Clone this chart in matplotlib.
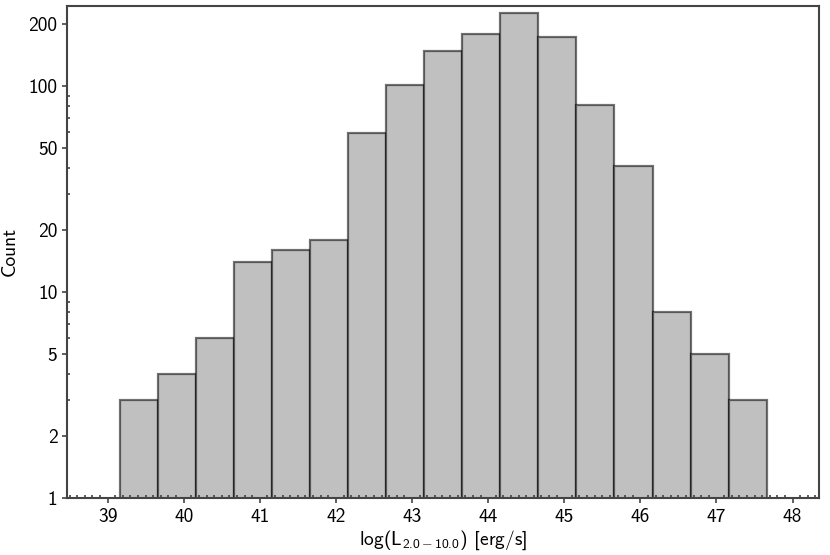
import numpy as np
import matplotlib.pyplot as plt
from matplotlib.ticker import FixedLocator, FixedFormatter, AutoMinorLocator, LogLocator, NullFormatter

plt.rcParams['font.family'] = ['cmss10', 'DejaVu Sans']
plt.rcParams['mathtext.fontset'] = 'custom'
plt.rcParams['mathtext.rm'] = 'cmss10'
plt.rcParams['mathtext.it'] = 'cmss10'
plt.rcParams['axes.unicode_minus'] = False

# bin edges (log L) and counts per bin
bin_left = [39.16, 39.66, 40.16, 40.66, 41.16, 41.66, 42.16, 42.66, 43.16,
            43.66, 44.16, 44.66, 45.16, 45.66, 46.16, 46.66, 47.16]
bin_width = 0.5
counts = [3, 4, 6, 14, 16, 18, 59, 101, 149, 179, 226, 173, 81, 41, 8, 5, 3]

yticks = [1, 2, 5, 10, 20, 50, 100, 200]
xticks = [39, 40, 41, 42, 43, 44, 45, 46, 47, 48]

fig = plt.figure(figsize=(8.3, 5.55), dpi=100)
ax = fig.add_axes([0.081, 0.103, 0.906, 0.887])

ax.bar(bin_left, counts, width=bin_width, align='edge',
       color='#c0c0c0', edgecolor=(0, 0, 0, 0.55), linewidth=1.6)

ax.set_yscale('log')
ax.set_ylim(1, 247)
ax.set_xlim(38.47, 48.35)

ax.yaxis.set_major_locator(FixedLocator(yticks))
ax.yaxis.set_major_formatter(FixedFormatter([str(v) for v in yticks]))
ax.yaxis.set_minor_locator(LogLocator(base=10, subs=np.arange(2, 10), numticks=20))
ax.yaxis.set_minor_formatter(NullFormatter())
ax.xaxis.set_major_locator(FixedLocator(xticks))
ax.xaxis.set_minor_locator(AutoMinorLocator(10))

ax.tick_params(which='major', direction='out', length=3.5, width=1.2,
               labelsize=14, colors='#444444', labelcolor='black')
ax.tick_params(which='minor', direction='in', length=2.5, width=1.2,
               colors='#444444')

for s in ax.spines.values():
    s.set_color('#444444')
    s.set_linewidth(1.5)

ax.set_xlabel(r'log(L$_{\mathrm{2.0-10.0}}$) [erg/s]', fontsize=14, labelpad=2)
ax.set_ylabel('Count', fontsize=14, labelpad=7)

fig.savefig('out.png', dpi=100)
